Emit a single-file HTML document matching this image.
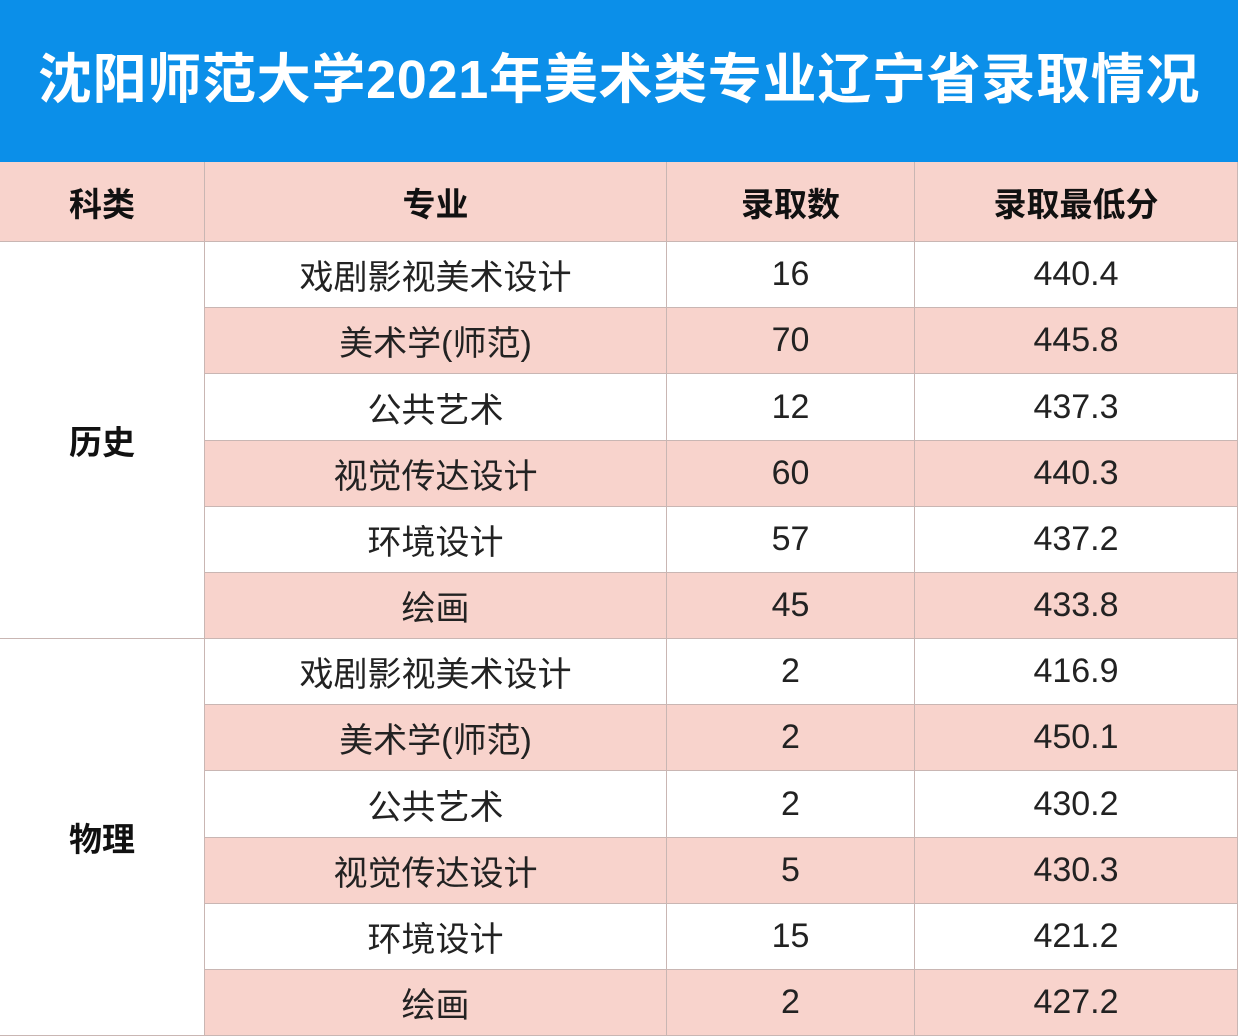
<!DOCTYPE html><html><head><meta charset="utf-8"><style>
body{margin:0;width:1238px;height:1036px;overflow:hidden;background:#fff;font-family:"Liberation Sans","Noto Sans CJK SC",sans-serif;position:relative}
.t{position:absolute;left:0;top:0;width:1238px;height:162px;background:#0b8fe9;color:#fff;font-weight:bold;font-size:54px;line-height:160px;text-align:center;letter-spacing:0.7px}
.c{position:absolute;box-sizing:border-box;display:flex;align-items:center;justify-content:center;border-right:1px solid #c9b6b3;border-bottom:1px solid #c9b6b3;font-size:34px;color:#222}
.p{background:#f8d3cc}
.h{font-weight:bold;font-size:33px;color:#111}
</style></head><body>
<div class="t">沈阳师范大学2021年美术类专业辽宁省录取情况</div>
<div id="g"></div>
<script>
var g=document.getElementById('g'),X=[0,205,667,915,1238];
function cell(x0,x1,y0,y1,txt,cls){var d=document.createElement('div');d.className='c '+cls;d.style.left=x0+'px';d.style.width=(x1-x0)+'px';d.style.top=y0+'px';d.style.height=(y1-y0)+'px';d.textContent=txt;g.appendChild(d);}
var hd=['科类','专业','录取数','录取最低分'];
for(var i=0;i<4;i++)cell(X[i],X[i+1],162,242,hd[i],'p h');
var rows=[['戏剧影视美术设计','16','440.4'],['美术学(师范)','70','445.8'],['公共艺术','12','437.3'],['视觉传达设计','60','440.3'],['环境设计','57','437.2'],['绘画','45','433.8'],['戏剧影视美术设计','2','416.9'],['美术学(师范)','2','450.1'],['公共艺术','2','430.2'],['视觉传达设计','5','430.3'],['环境设计','15','421.2'],['绘画','2','427.2']];
var R=66.17;
for(var r=0;r<12;r++){var y0=Math.round(242+R*r),y1=Math.round(242+R*(r+1));var cl=r%2?'p':'';for(var j=0;j<3;j++)cell(X[j+1],X[j+2],y0,y1,rows[r][j],cl);}
cell(0,205,242,Math.round(242+R*6),'历史','h');
cell(0,205,Math.round(242+R*6),1036,'物理','h');
</script>
</body></html>
